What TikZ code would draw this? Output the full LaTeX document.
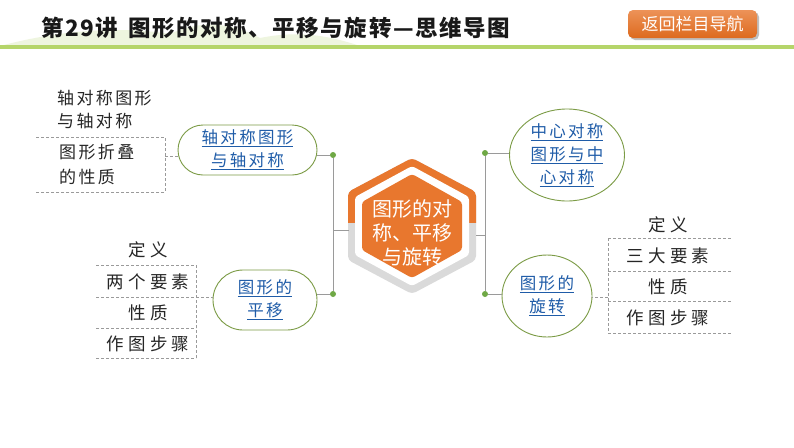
\documentclass[tikz,border=0pt]{standalone}
\usepackage{fontspec}
\setmainfont{Noto Sans CJK SC}
\newfontfamily\cjk{Noto Sans CJK SC}
\newfontfamily\cjkt[LetterSpace=7]{Noto Sans CJK SC}
\newfontfamily\cjka[LetterSpace=14]{Noto Sans CJK SC}
\newfontfamily\cjkb[LetterSpace=24]{Noto Sans CJK SC}
\usetikzlibrary{shapes.geometric}
\definecolor{orng}{HTML}{E8772E}
\definecolor{orngd}{HTML}{DD6A1E}
\definecolor{grn}{HTML}{7B9B45}
\definecolor{dotg}{HTML}{6FA845}
\definecolor{lnk}{HTML}{1F5CA8}
\definecolor{gry}{HTML}{9A9A9A}
\definecolor{ringg}{HTML}{DADADA}
\definecolor{hdr}{HTML}{B5D56A}
\definecolor{hill}{HTML}{EEF5DF}
\tikzset{
  stad/.style={draw=grn, line width=0.9pt, fill=white, align=center, text=lnk,
    font=\cjka\fontsize{16.5}{23}\selectfont, inner sep=0pt},
  ell/.style={ellipse, draw=grn, line width=0.9pt, fill=white, align=center, text=lnk,
    font=\cjka\fontsize{16.5}{23}\selectfont, inner sep=0pt},
  plain/.style={align=left, font=\cjka\fontsize{17}{23}\selectfont, inner sep=0pt, text=black!85},
  item/.style={font=\cjkb\fontsize{17.5}{20}\selectfont, inner sep=0pt, text=black!85},
  conn/.style={draw=gry, line width=0.8pt},
  dsh/.style={draw=gry, line width=0.8pt, dash pattern=on 3pt off 2pt},
  gdot/.style={circle, fill=dotg, inner sep=0pt, minimum size=6pt}
}
\begin{document}
\begin{tikzpicture}[x=1pt,y=-1pt]
\useasboundingbox (0,0) rectangle (794,447);
\fill[white] (0,0) rectangle (794,447);
% header
\fill[hill] (0,46) .. controls (60,30) and (120,26) .. (170,34) .. controls (200,20) and (230,22) .. (260,38) .. controls (300,30) and (330,36) .. (360,46) -- cycle;
\fill[hdr] (0,45) rectangle (794,49);
\node[anchor=west, font=\cjkt\fontsize{22.5}{24}\selectfont\bfseries, text=black!90, inner sep=0pt] (title) at (41,28) {第29讲\hspace{10pt}图形的对称、平移与旋转—思维导图};
\fill[black!25, rounded corners=5pt] (630,12) rectangle (759,40);
\shade[top color=orng!80!white, bottom color=orngd, rounded corners=5pt] (628,10) rectangle (757,38);
\node[font=\cjk\fontsize{17}{20}\selectfont, text=white, inner sep=0pt] (back) at (692.5,24) {返回栏目导航};

% central hexagon
\fill[ringg, rounded corners=4pt] (412,158) -- (476,192) -- (476,260) -- (412,294) -- (348,260) -- (348,192) -- cycle;
\begin{scope}
\clip (340,150) rectangle (485,222);
\fill[orng, rounded corners=4pt] (412,158) -- (476,192) -- (476,260) -- (412,294) -- (348,260) -- (348,192) -- cycle;
\end{scope}
\fill[white, rounded corners=3pt] (412,166) -- (469,197) -- (469,255) -- (412,286) -- (355,255) -- (355,197) -- cycle;
\fill[orng, rounded corners=3pt] (412,174) -- (462,202) -- (462,250) -- (412,278) -- (362,250) -- (362,202) -- cycle;
\node[align=center, text=white, font=\cjk\fontsize{20}{24}\selectfont, inner sep=0pt] (center) at (412,233) {图形的对\\称、平移\\与旋转};

% connector points
\coordinate (hl) at (349,230);
\coordinate (jl) at (333,230);
\coordinate (hr) at (476,235);
\coordinate (jr) at (485,235);
\node[gdot] (dl1) at (333,155) {};
\node[gdot] (dl2) at (333,294) {};
\node[gdot] (dr1) at (485,153) {};
\node[gdot] (dr2) at (485,294) {};
\draw[conn] (dl1) -- (dl2);
\draw[conn] (dr1) -- (dr2);
\draw[conn] (hl) -- (jl);
\draw[conn] (hr) -- (jr);

% left-top
\node[stad, minimum width=139pt, minimum height=50pt, rounded corners=25pt] (axn) at (247.5,150) {\underline{轴对称图形}\\\underline{与轴对称}};
\draw[conn] (dl1) -- (dl1 -| axn.east);
\node[plain, anchor=west] (t1) at (57,98) {轴对称图形};
\node[plain, anchor=west] (t2) at (57,121) {与轴对称};
\node[plain, anchor=west] (t3) at (59,152) {图形折叠};
\node[plain, anchor=west] (t4) at (59,177) {的性质};
\draw[dsh] (36,137) -- (165,137) -- (165,192) -- (36,192);
\coordinate (bl1) at (165,156);
\draw[dsh] (bl1) -- (bl1 -| axn.west);

% left-bottom
\node[stad, minimum width=104pt, minimum height=60pt, rounded corners=30pt] (py) at (265,300) {\underline{图形的}\\\underline{平移}};
\draw[conn] (dl2) -- (dl2 -| py.east);
\node[item] (l1) at (148,250) {定义};
\node[item] (l2) at (148,282) {两个要素};
\node[item] (l3) at (148,313) {性质};
\node[item] (l4) at (148,344) {作图步骤};
\draw[dsh] (96,265) -- (196,265);
\draw[dsh] (96,297) -- (196,297);
\draw[dsh] (96,328) -- (196,328);
\draw[dsh] (96,358) -- (196,358);
\draw[dsh] (196,265) -- (196,358);
\coordinate (bl2) at (196,297);
\draw[dsh] (bl2) -- (bl2 -| py.west);

% right-top
\node[ell, minimum width=115pt, minimum height=92pt] (zx) at (567,155) {\underline{中心对称}\\\underline{图形与中}\\\underline{心对称}};
\draw[conn] (dr1) -- (dr1 -| zx.west);

% right-bottom
\node[ell, minimum width=90pt, minimum height=82pt] (xz) at (547,296) {\underline{图形的}\\\underline{旋转}};
\draw[conn] (dr2) -- (dr2 -| xz.west);
\node[item] (r1) at (668,225) {定义};
\node[item] (r2) at (668,256) {三大要素};
\node[item] (r3) at (668,287) {性质};
\node[item] (r4) at (668,318) {作图步骤};
\draw[dsh] (608,238) -- (732,238);
\draw[dsh] (608,271) -- (732,271);
\draw[dsh] (608,301) -- (732,301);
\draw[dsh] (608,333) -- (732,333);
\draw[dsh] (608,238) -- (608,333);
\coordinate (br2) at (608,297);
\draw[dsh] (br2) -- (br2 -| xz.east);
\end{tikzpicture}
\end{document}
